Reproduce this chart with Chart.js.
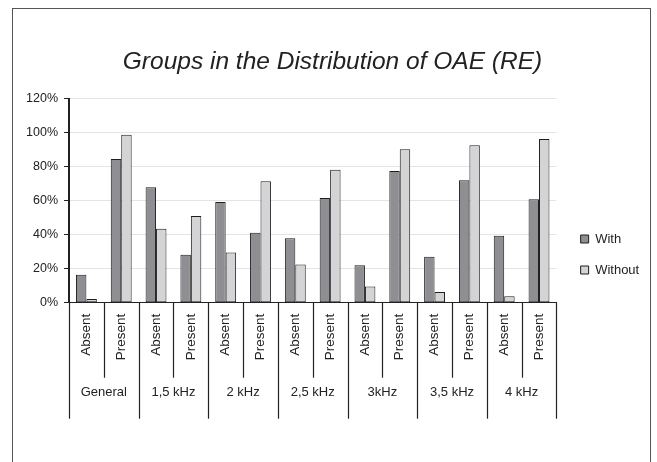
<!DOCTYPE html>
<html lang="en">
<head>
    <meta charset="UTF-8">
    <title>Groups in the Distribution of OAE (RE)</title>
    <style>
        html, body { margin: 0; padding: 0; background: #fff; }
        #wrap { width: 657px; height: 462px; }
    </style>
</head>
<body>
    <div id="wrap">
        <canvas id="myChart" width="657" height="462"></canvas>
    </div>

    <script src="https://cdn.jsdelivr.net/npm/chart.js@4.4.1/dist/chart.umd.min.js"></script>
    <script>
        // data (percent)
        var groups = ['General', '1,5 kHz', '2 kHz', '2,5 kHz', '3kHz', '3,5 kHz', '4 kHz'];
        var states = ['Absent', 'Present'];
        var withValues    = [16.5, 84.5, 67.9, 28.2, 59.2, 41.2, 37.9, 61.6, 22.0, 77.5, 27.1, 72.0, 39.4, 60.8];
        var withoutValues = [2.2, 98.8, 43.5, 51.0, 29.6, 71.4, 22.4, 78.2, 9.6, 90.2, 6.3, 92.6, 3.8, 96.3];
        var yTicks = [0, 20, 40, 60, 80, 100, 120];

        var labels = [];
        groups.forEach(function () {
            states.forEach(function (s) { labels.push(s); });
        });

        var font = "'Liberation Sans', Arial, sans-serif";
        var ink = '#222';

        // outer frame + the two-level category separators and group names
        var frameAndGroups = {
            id: 'frameAndGroups',
            beforeDraw: function (chart) {
                var ctx = chart.ctx;
                ctx.save();
                ctx.fillStyle = '#fff';
                ctx.fillRect(0, 0, chart.width, chart.height);
                ctx.strokeStyle = '#555';
                ctx.lineWidth = 1;
                ctx.strokeRect(12.5, 8.5, 638, 500);
                ctx.restore();
            },
            afterDraw: function (chart) {
                var ctx = chart.ctx;
                var x = chart.scales.x;
                var top = chart.chartArea.bottom;
                var per = states.length;
                var step = (x.right - x.left) / labels.length;
                ctx.save();
                ctx.strokeStyle = ink;
                ctx.lineWidth = 1.2;
                for (var i = 0; i <= labels.length; i++) {
                    var px = Math.round(x.left + i * step) + 0.5;
                    var len = (i % per === 0) ? 116 : 75;
                    ctx.beginPath();
                    ctx.moveTo(px, top);
                    ctx.lineTo(px, top + len);
                    ctx.stroke();
                }
                ctx.fillStyle = ink;
                ctx.font = '13px ' + font;
                ctx.textAlign = 'center';
                ctx.textBaseline = 'middle';
                groups.forEach(function (g, gi) {
                    var cx = x.left + (gi * per + per / 2) * step;
                    ctx.fillText(g, cx, top + 90);
                });
                ctx.restore();
            }
        };

        var ctx = document.getElementById('myChart').getContext('2d');
        var myChart = new Chart(ctx, {
            type: 'bar',
            data: {
                labels: labels,
                datasets: [
                    {
                        label: 'With',
                        data: withValues,
                        backgroundColor: '#8f8f93',
                        borderColor: '#1e1e1e',
                        borderWidth: 1,
                        borderSkipped: false,
                        categoryPercentage: 0.6,
                        barPercentage: 1.0
                    },
                    {
                        label: 'Without',
                        data: withoutValues,
                        backgroundColor: '#d4d4d6',
                        borderColor: '#1e1e1e',
                        borderWidth: 1,
                        borderSkipped: false,
                        categoryPercentage: 0.6,
                        barPercentage: 1.0
                    }
                ]
            },
            options: {
                responsive: false,
                animation: false,
                layout: { padding: { top: 47, right: 7.8, left: 15.8, bottom: 0 } },
                plugins: {
                    tooltip: { enabled: false },
                    title: {
                        display: true,
                        text: 'Groups in the Distribution of OAE (RE)',
                        color: ink,
                        font: { family: font, size: 24.5, style: 'italic', weight: 'normal' },
                        padding: { top: 0.3, bottom: 22 }
                    },
                    legend: {
                        position: 'right',
                        labels: {
                            color: ink,
                            font: { family: font, size: 13 },
                            boxWidth: 8,
                            boxHeight: 8,
                            padding: 18
                        }
                    }
                },
                scales: {
                    x: {
                        grid: { display: true, drawOnChartArea: false, drawTicks: false },
                        border: { display: true, color: ink, width: 1 },
                        ticks: {
                            color: ink,
                            font: { family: font, size: 13.5 },
                            minRotation: 90,
                            maxRotation: 90,
                            autoSkip: false,
                            padding: 11
                        },
                        afterFit: function (s) { s.height = 159.3; }
                    },
                    y: {
                        min: 0,
                        max: 120,
                        afterBuildTicks: function (s) {
                            s.ticks = yTicks.map(function (v) { return { value: v }; });
                        },
                        grid: { color: '#e4e4e4', lineWidth: 1, tickColor: ink, tickLength: 5 },
                        border: { display: true, color: ink, width: 2 },
                        ticks: {
                            color: ink,
                            font: { family: font, size: 12.5 },
                            padding: 6,
                            callback: function (v) { return v + '%'; }
                        },
                        afterFit: function (s) { s.width = 53.2; }
                    },
                    gap: {
                        position: 'right',
                        display: true,
                        grid: { display: false },
                        border: { display: false },
                        ticks: { display: false },
                        afterFit: function (s) { s.width = 6.2; }
                    }
                }
            },
            plugins: [frameAndGroups]
        });
    </script>
</body>
</html>
